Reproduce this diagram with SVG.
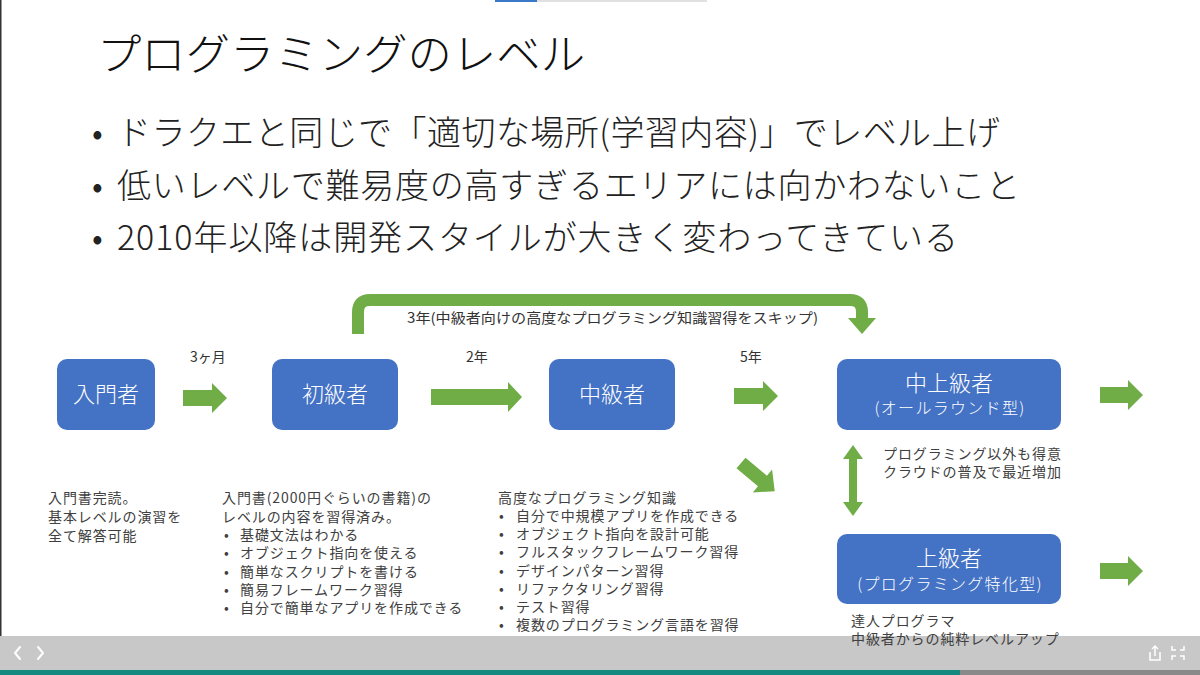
<svg xmlns="http://www.w3.org/2000/svg" width="1200" height="675" viewBox="0 0 1200 675">
<defs>
<style>
.jp{font-family:"Noto Sans CJK JP","Noto Sans CJK SC",sans-serif;}
.title{font-size:43px;font-weight:300;fill:#111;}
.bul{font-size:34px;font-weight:300;fill:#222;}
.node{fill:#4472C4;}
.nt{font-size:22px;fill:#fff;font-weight:300;text-anchor:middle;}
.ns{font-size:16px;fill:#fff;font-weight:300;text-anchor:middle;letter-spacing:1.3px;}
.lbl{font-size:14px;fill:#333;}
.desc{font-size:14px;fill:#404040;letter-spacing:0.9px;}
.arrow{fill:#70AD47;}
</style>
</defs>
<rect x="0" y="0" width="1200" height="675" fill="#ffffff"/>
<rect x="495" y="0" width="42" height="2" fill="#3a78c8"/>
<rect x="537" y="0" width="170" height="2" fill="#e0e0e0"/>
<line x1="0.75" y1="0" x2="0.75" y2="636" stroke="#333" stroke-width="1.5"/>

<text class="jp title" x="97" y="70" textLength="488" lengthAdjust="spacingAndGlyphs">プログラミングのレベル</text>
<g class="jp bul">
<text x="92" y="145">•</text><text x="117" y="145" textLength="883" lengthAdjust="spacing">ドラクエと同じで「適切な場所(学習内容)」でレベル上げ</text>
<text x="92" y="198">•</text><text x="117" y="198" textLength="903" lengthAdjust="spacing">低いレベルで難易度の高すぎるエリアには向かわないこと</text>
<text x="92" y="250">•</text><text x="117" y="250" textLength="841" lengthAdjust="spacing">2010年以降は開発スタイルが大きく変わってきている</text>
</g>

<g id="connectors">
<path d="M358,334 V312 Q358,300 370,300 H850 Q862,300 862,312 V319" fill="none" stroke="#70AD47" stroke-width="12"/>
<polygon class="arrow" points="848,318 876,318 862,334"/>
<path class="arrow" transform="translate(183,398)" d="M0,-8 H29 V-15 L44,0 L29,15 V8 H0 Z"/>
<path class="arrow" transform="translate(431,397)" d="M0,-8 H77 V-15 L91,0 L77,15 V8 H0 Z"/>
<path class="arrow" transform="translate(734,396)" d="M0,-8 H29 V-15 L44,0 L29,15 V8 H0 Z"/>
<path class="arrow" transform="translate(1100,395)" d="M0,-8 H28 V-15 L43,0 L28,15 V8 H0 Z"/>
<path class="arrow" transform="translate(1100,571)" d="M0,-8 H28 V-15 L43,0 L28,15 V8 H0 Z"/>
<path class="arrow" transform="translate(741,463) rotate(40)" d="M0,-7 H28 V-15 L44,0 L28,15 V7 H0 Z"/>
<path class="arrow" d="M853,445 L863,459 H857 V502 H863 L853,516 L843,502 H849 V459 H843 Z"/>
<text class="jp lbl" x="190" y="362">3ヶ月</text>
<text class="jp lbl" x="466" y="362">2年</text>
<text class="jp lbl" x="740" y="362">5年</text>
<text class="jp lbl" x="407" y="323" textLength="411" lengthAdjust="spacingAndGlyphs">3年(中級者向けの高度なプログラミング知識習得をスキップ)</text>
</g>

<g id="node-nyumon">
<rect class="node" x="57" y="359" width="98" height="71" rx="10"/>
<text class="jp nt" x="106" y="402">入門者</text>
</g>
<g id="node-shokyu">
<rect class="node" x="272" y="359" width="126" height="71" rx="10"/>
<text class="jp nt" x="335" y="402">初級者</text>
</g>
<g id="node-chukyu">
<rect class="node" x="549" y="359" width="126" height="71" rx="10"/>
<text class="jp nt" x="612" y="402">中級者</text>
</g>
<g id="node-chujokyu">
<rect class="node" x="837" y="359" width="224" height="71" rx="10"/>
<text class="jp nt" x="949" y="391">中上級者</text>
<text class="jp ns" x="950" y="414">(オールラウンド型)</text>
</g>
<g id="node-jokyu">
<rect class="node" x="837" y="534" width="224" height="70" rx="10"/>
<text class="jp nt" x="949" y="566">上級者</text>
<text class="jp ns" x="950" y="590">(プログラミング特化型)</text>
</g>

<g id="desc-nyumon" class="jp desc">
<text x="48" y="503">入門書完読。</text>
<text x="48" y="522">基本レベルの演習を</text>
<text x="48" y="541">全て解答可能</text>
</g>
<g id="desc-shokyu" class="jp desc">
<text x="222" y="503">入門書(2000円ぐらいの書籍)の</text>
<text x="222" y="522">レベルの内容を習得済み。</text>
<text x="224" y="540">•</text><text x="240" y="540">基礎文法はわかる</text>
<text x="224" y="558">•</text><text x="240" y="558">オブジェクト指向を使える</text>
<text x="224" y="577">•</text><text x="240" y="577">簡単なスクリプトを書ける</text>
<text x="224" y="595">•</text><text x="240" y="595">簡易フレームワーク習得</text>
<text x="224" y="613">•</text><text x="240" y="613">自分で簡単なアプリを作成できる</text>
</g>
<g id="desc-chukyu" class="jp desc">
<text x="498" y="503">高度なプログラミング知識</text>
<text x="499" y="521">•</text><text x="516" y="521">自分で中規模アプリを作成できる</text>
<text x="499" y="539">•</text><text x="516" y="539">オブジェクト指向を設計可能</text>
<text x="499" y="557">•</text><text x="516" y="557">フルスタックフレームワーク習得</text>
<text x="499" y="576">•</text><text x="516" y="576">デザインパターン習得</text>
<text x="499" y="594">•</text><text x="516" y="594">リファクタリング習得</text>
<text x="499" y="612">•</text><text x="516" y="612">テスト習得</text>
<text x="499" y="630">•</text><text x="516" y="630">複数のプログラミング言語を習得</text>
</g>
<g id="desc-chujokyu" class="jp desc">
<text x="883" y="459">プログラミング以外も得意</text>
<text x="883" y="477">クラウドの普及で最近増加</text>
</g>

<rect x="0" y="636" width="1200" height="34" fill="#c8c8c8"/>
<rect x="0" y="670" width="960" height="5" fill="#14897f"/>
<rect x="960" y="670" width="240" height="5" fill="#8a8a8a"/>
<path d="M20,647 L15,653 L20,659 M38,647 L43,653 L38,659" fill="none" stroke="#fff" stroke-width="2" stroke-linecap="round" stroke-linejoin="round"/>
<path d="M1150,652 V660 H1160 V652 M1155,656 V646 M1152,649 L1155,646 L1158,649" fill="none" stroke="#fff" stroke-width="1.5"/>
<path d="M1172,646 V650 H1176 M1184,646 V650 H1180 M1172,660 V656 H1176 M1184,660 V656 H1180" fill="none" stroke="#fff" stroke-width="1.5"/>

<g id="desc-jokyu" class="jp desc">
<text x="851" y="626">達人プログラマ</text>
<text x="851" y="644">中級者からの純粋レベルアップ</text>
</g>
</svg>
